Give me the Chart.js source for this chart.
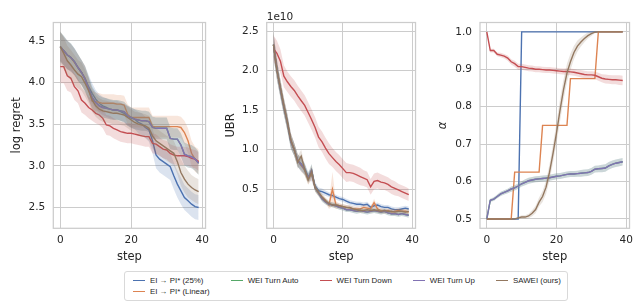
<!DOCTYPE html>
<html>
<head>
<meta charset="utf-8">
<script src="https://cdn.jsdelivr.net/npm/chart.js@4.4.1/dist/chart.umd.min.js"></script>
<style>
  body { margin: 0; background: #fff; width: 639px; height: 302px; overflow: hidden; position: relative; font-family: "DejaVu Sans", sans-serif; }
  canvas { position: absolute; top: 0; }
  #legend {
    position: absolute; left: 124px; top: 271px;
    border: 1px solid #d9d9d9; border-radius: 3px; background: #fff;
    padding: 3px 6px 3px 8px;
    display: grid; grid-template-rows: 11px 11px; column-gap: 21px;
    font-family: "Liberation Sans", Arial, sans-serif; font-size: 7.9px; color: #262626; white-space: nowrap;
  }
  #legend .item { display: flex; align-items: center; }
  #legend .handle { display: inline-block; width: 12px; height: 1.4px; margin-right: 5px; }
</style>
</head>
<body>
<canvas id="c1" width="215" height="270" style="left:0px"></canvas>
<canvas id="c2" width="210" height="270" style="left:215px"></canvas>
<canvas id="c3" width="214" height="270" style="left:425px"></canvas>
<div id="legend"></div>
<script>
const steps = [0,1,2,3,4,5,6,7,8,9,10,11,12,13,14,15,16,17,18,19,20,21,22,23,24,25,26,27,28,29,30,31,32,33,34,35,36,37,38,39];
const seriesNames = ['EI \u2192 PI* (25%)', 'EI \u2192 PI* (Linear)', 'WEI Turn Auto', 'WEI Turn Down', 'WEI Turn Up', 'SAWEI (ours)'];
const seriesColors = ['#4c72b0', '#dd8452', '#55a868', '#c44e52', '#8172b3', '#937860'];
const xTicks = [0, 20, 40];

// log regret
const regretPi25 = [4.43,4.38,4.33,4.30,4.25,4.18,4.12,4.05,3.95,3.87,3.80,3.75,3.72,3.70,3.68,3.67,3.67,3.65,3.63,3.60,3.57,3.56,3.52,3.50,3.46,3.43,3.30,3.13,3.08,3.05,3.02,2.99,2.88,2.78,2.70,2.62,2.58,2.54,2.51,2.50];
const regretLinear = [4.43,4.38,4.33,4.30,4.24,4.18,4.12,4.05,3.92,3.78,3.77,3.76,3.75,3.75,3.75,3.75,3.74,3.74,3.73,3.62,3.58,3.58,3.58,3.58,3.58,3.58,3.47,3.47,3.47,3.47,3.47,3.47,3.47,3.47,3.46,3.40,3.30,3.15,3.08,3.05];
const regretDown = [4.19,4.19,4.08,4.05,3.95,3.90,3.79,3.75,3.70,3.67,3.63,3.61,3.57,3.49,3.48,3.45,3.43,3.41,3.40,3.39,3.39,3.38,3.37,3.36,3.35,3.35,3.27,3.26,3.23,3.20,3.19,3.15,3.13,3.12,3.12,3.12,3.11,3.09,3.08,3.05];
const regretUp = [4.43,4.38,4.33,4.30,4.25,4.18,4.12,4.04,3.93,3.82,3.76,3.72,3.70,3.69,3.68,3.67,3.67,3.66,3.65,3.60,3.58,3.56,3.55,3.54,3.54,3.53,3.46,3.45,3.45,3.45,3.45,3.33,3.32,3.32,3.25,3.14,3.12,3.11,3.08,3.03];
const regretSawei = [4.43,4.35,4.26,4.21,4.15,4.10,4.07,3.99,3.90,3.79,3.72,3.68,3.66,3.65,3.64,3.63,3.63,3.62,3.61,3.58,3.55,3.52,3.50,3.49,3.48,3.45,3.36,3.30,3.27,3.24,3.21,3.18,3.15,3.05,2.92,2.84,2.78,2.74,2.71,2.69];
const regretSdPi25 = [0.17,0.17,0.17,0.16,0.16,0.16,0.15,0.15,0.14,0.12,0.11,0.11,0.11,0.11,0.11,0.11,0.11,0.11,0.11,0.12,0.12,0.12,0.13,0.13,0.13,0.14,0.15,0.16,0.16,0.16,0.16,0.16,0.16,0.16,0.16,0.15,0.15,0.15,0.15,0.15];
const regretSdLinear = [0.17,0.17,0.17,0.16,0.16,0.16,0.15,0.15,0.14,0.12,0.11,0.11,0.11,0.11,0.11,0.11,0.11,0.11,0.11,0.12,0.12,0.12,0.12,0.12,0.12,0.12,0.13,0.13,0.13,0.13,0.13,0.13,0.13,0.13,0.13,0.14,0.15,0.15,0.15,0.15];
const regretSdDown = [0.20,0.20,0.18,0.17,0.16,0.15,0.15,0.14,0.13,0.13,0.12,0.12,0.12,0.12,0.12,0.12,0.12,0.12,0.12,0.12,0.12,0.12,0.12,0.12,0.12,0.12,0.12,0.12,0.11,0.11,0.11,0.11,0.11,0.11,0.11,0.11,0.11,0.11,0.11,0.11];
const regretSdUp = [0.18,0.18,0.17,0.17,0.16,0.16,0.15,0.15,0.14,0.13,0.12,0.12,0.12,0.12,0.12,0.12,0.12,0.12,0.12,0.12,0.12,0.12,0.12,0.12,0.12,0.12,0.13,0.13,0.13,0.13,0.13,0.13,0.13,0.13,0.14,0.14,0.14,0.14,0.14,0.14];
const regretSdSawei = [0.19,0.19,0.18,0.18,0.18,0.17,0.17,0.16,0.15,0.14,0.13,0.13,0.13,0.13,0.13,0.13,0.13,0.13,0.13,0.13,0.13,0.13,0.14,0.14,0.14,0.15,0.15,0.15,0.15,0.15,0.15,0.15,0.15,0.15,0.16,0.16,0.16,0.15,0.15,0.15];
const regretTicks = [2.5, 3.0, 3.5, 4.0, 4.5];

// UBR, in units of 1e10
const ubrPi25 = [2.33,2.00,1.78,1.55,1.36,1.12,1.00,0.86,0.80,0.76,0.66,0.68,0.54,0.48,0.47,0.45,0.43,0.42,0.40,0.38,0.37,0.35,0.33,0.32,0.31,0.31,0.30,0.31,0.27,0.29,0.30,0.28,0.27,0.27,0.25,0.24,0.24,0.25,0.26,0.25];
const ubrLinear = [2.33,2.02,1.78,1.56,1.35,1.12,1.00,0.87,0.80,0.74,0.62,0.70,0.52,0.45,0.40,0.36,0.30,0.50,0.30,0.29,0.28,0.27,0.26,0.25,0.25,0.25,0.27,0.26,0.25,0.33,0.25,0.23,0.22,0.23,0.21,0.22,0.23,0.22,0.22,0.21];
const ubrDown = [2.28,2.22,2.12,1.93,1.86,1.80,1.75,1.68,1.62,1.56,1.47,1.38,1.28,1.16,1.10,1.02,0.95,0.90,0.85,0.81,0.76,0.71,0.71,0.70,0.68,0.66,0.64,0.62,0.53,0.60,0.61,0.59,0.58,0.56,0.53,0.51,0.49,0.47,0.45,0.43];
const ubrUp = [2.33,2.02,1.76,1.54,1.34,1.10,1.00,0.86,0.82,0.75,0.64,0.74,0.52,0.45,0.38,0.34,0.31,0.30,0.29,0.27,0.26,0.24,0.24,0.23,0.22,0.23,0.22,0.21,0.22,0.23,0.22,0.21,0.22,0.20,0.19,0.19,0.18,0.19,0.18,0.17];
const ubrSawei = [2.33,2.00,1.78,1.55,1.35,1.12,1.00,0.84,0.92,0.75,0.62,0.72,0.52,0.46,0.40,0.35,0.32,0.30,0.30,0.29,0.28,0.27,0.27,0.25,0.24,0.23,0.23,0.24,0.23,0.24,0.23,0.22,0.23,0.22,0.22,0.21,0.22,0.22,0.21,0.22];
const ubrSd = [0.15,0.12,0.11,0.10,0.10,0.09,0.08,0.08,0.08,0.07,0.06,0.08,0.05,0.04,0.04,0.035,0.03,0.03,0.03,0.03,0.03,0.03,0.03,0.03,0.03,0.03,0.03,0.03,0.03,0.03,0.03,0.03,0.03,0.03,0.03,0.03,0.03,0.03,0.03,0.03];
const ubrSdLinear = [0.15,0.12,0.11,0.10,0.10,0.09,0.08,0.08,0.08,0.07,0.06,0.08,0.05,0.04,0.04,0.035,0.05,0.22,0.05,0.03,0.03,0.03,0.03,0.03,0.03,0.03,0.03,0.03,0.03,0.05,0.03,0.03,0.03,0.03,0.03,0.03,0.03,0.03,0.03,0.03];
const ubrSdDown = [0.17,0.16,0.15,0.14,0.13,0.13,0.13,0.13,0.13,0.13,0.13,0.13,0.13,0.13,0.13,0.13,0.13,0.12,0.12,0.12,0.12,0.12,0.11,0.11,0.11,0.11,0.10,0.10,0.10,0.10,0.10,0.10,0.09,0.09,0.09,0.09,0.08,0.08,0.08,0.08];
const ubrTicks = [0.5, 1.0, 1.5, 2.0, 2.5];

// alpha
const alphaPi25 = [0.5,0.5,0.5,0.5,0.5,0.5,0.5,0.5,0.5,0.5,1,1,1,1,1,1,1,1,1,1,1,1,1,1,1,1,1,1,1,1,1,1,1,1,1,1,1,1,1,1];
const alphaLinear = [0.5,0.5,0.5,0.5,0.5,0.5,0.5,0.5,0.625,0.625,0.625,0.625,0.625,0.625,0.625,0.625,0.75,0.75,0.75,0.75,0.75,0.75,0.75,0.75,0.875,0.875,0.875,0.875,0.875,0.875,0.875,0.875,1,1,1,1,1,1,1,1];
const alphaDown = [1.0,0.95,0.95,0.94,0.938,0.935,0.93,0.92,0.915,0.907,0.907,0.905,0.903,0.902,0.9,0.9,0.899,0.898,0.898,0.897,0.896,0.895,0.894,0.894,0.893,0.892,0.89,0.888,0.886,0.885,0.885,0.884,0.88,0.876,0.874,0.873,0.872,0.872,0.871,0.87];
const alphaUp = [0.5,0.55,0.553,0.56,0.567,0.571,0.575,0.58,0.583,0.588,0.594,0.598,0.602,0.604,0.606,0.607,0.608,0.609,0.61,0.612,0.614,0.615,0.617,0.619,0.62,0.62,0.621,0.622,0.623,0.624,0.627,0.633,0.634,0.635,0.636,0.642,0.646,0.649,0.651,0.653];
const alphaSawei = [0.5,0.5,0.5,0.5,0.5,0.5,0.5,0.5,0.5,0.503,0.505,0.505,0.508,0.515,0.525,0.545,0.56,0.585,0.625,0.675,0.73,0.79,0.845,0.89,0.92,0.945,0.962,0.973,0.982,0.99,0.995,0.999,1,1,1,1,1,1,1,1];
const alphaSdDown = [0,0.005,0.005,0.005,0.006,0.006,0.007,0.007,0.008,0.008,0.008,0.008,0.008,0.008,0.008,0.008,0.008,0.008,0.008,0.008,0.008,0.008,0.008,0.009,0.009,0.009,0.009,0.01,0.01,0.01,0.01,0.01,0.011,0.011,0.012,0.012,0.012,0.012,0.013,0.013];
const alphaSdUp = [0,0.004,0.005,0.005,0.006,0.006,0.006,0.007,0.007,0.007,0.007,0.008,0.008,0.008,0.008,0.008,0.008,0.008,0.008,0.008,0.008,0.008,0.008,0.008,0.008,0.008,0.008,0.009,0.009,0.009,0.009,0.009,0.009,0.01,0.01,0.01,0.01,0.01,0.01,0.01];
const alphaSdSawei = [0,0,0,0,0,0,0,0,0,0.003,0.005,0.005,0.006,0.008,0.01,0.012,0.015,0.018,0.022,0.025,0.028,0.03,0.028,0.025,0.022,0.018,0.015,0.012,0.01,0.008,0.006,0.003,0,0,0,0,0,0,0,0];
const alphaTicks = [0.5, 0.6, 0.7, 0.8, 0.9, 1.0];

// WEI Turn Auto is not visible on its own, it sits under WEI Turn Up
const panels = [
  { id: 'c1', label: 'log regret', italic: false, yMin: 2.25, yMax: 4.72, yTicks: regretTicks,
    means: [regretPi25, regretLinear, regretUp, regretDown, regretUp, regretSawei],
    sds: [regretSdPi25, regretSdLinear, regretSdUp, regretSdDown, regretSdUp, regretSdSawei],
    axisW: 53.3, padRight: 5.7, titlePad: 9.8 },
  { id: 'c2', label: 'UBR', italic: false, yMin: 0.005, yMax: 2.61, yTicks: ubrTicks, offsetText: '1e10',
    means: [ubrPi25, ubrLinear, ubrUp, ubrDown, ubrUp, ubrSawei],
    sds: [ubrSd, ubrSdLinear, ubrSd, ubrSdDown, ubrSd, ubrSd],
    axisW: 51.7, padRight: 3.3, titlePad: 9.1 },
  { id: 'c3', label: '\u03b1', italic: true, yMin: 0.475, yMax: 1.025, yTicks: alphaTicks,
    means: [alphaPi25, alphaLinear, alphaUp, alphaDown, alphaUp, alphaSawei],
    sds: [null, null, alphaSdUp, alphaSdDown, alphaSdUp, alphaSdSawei],
    axisW: 55, padRight: 4, titlePad: 11.6 }
];

Chart.defaults.font.family = '"DejaVu Sans", sans-serif';
Chart.defaults.color = '#262626';

function rgba(hex, a) {
  const n = parseInt(hex.slice(1), 16);
  return `rgba(${n >> 16}, ${(n >> 8) & 255}, ${n & 255}, ${a})`;
}

function buildDatasets(means, sds) {
  const ds = [];
  means.forEach((m, i) => {
    const col = seriesColors[i];
    const sd = sds[i];
    if (sd) {
      ds.push({ data: steps.map((s, k) => ({ x: s, y: m[k] - sd[k] })), borderWidth: 0, pointRadius: 0, fill: false });
      ds.push({ data: steps.map((s, k) => ({ x: s, y: m[k] + sd[k] })), borderWidth: 0, pointRadius: 0,
                fill: '-1', backgroundColor: rgba(col, 0.2) });
    }
    ds.push({ label: seriesNames[i], data: steps.map((s, k) => ({ x: s, y: m[k] })),
              borderColor: col, borderWidth: 1.4, pointRadius: 0, fill: false });
  });
  // later series are drawn on top, like seaborn
  ds.forEach((d, j) => { d.order = ds.length - j; });
  return ds;
}

const spines = {
  id: 'spines',
  afterDatasetsDraw(chart) {
    const { ctx, chartArea: a } = chart;
    ctx.save();
    ctx.strokeStyle = '#cccccc';
    ctx.lineWidth = 1.25;
    ctx.strokeRect(a.left, a.top, a.right - a.left, a.bottom - a.top);
    ctx.restore();
  }
};

const offsetText = {
  id: 'offsetText',
  afterDraw(chart, args, opts) {
    if (!opts.text) return;
    const { ctx, chartArea: a } = chart;
    ctx.save();
    ctx.font = '10.5px "DejaVu Sans"';
    ctx.fillStyle = '#262626';
    ctx.textAlign = 'left';
    ctx.textBaseline = 'alphabetic';
    ctx.fillText(opts.text, a.left, a.top - 2.5);
    ctx.restore();
  }
};

panels.forEach(p => {
  new Chart(document.getElementById(p.id), {
    type: 'line',
    data: { datasets: buildDatasets(p.means, p.sds) },
    plugins: [spines, offsetText],
    options: {
      responsive: false,
      animation: false,
      events: [],
      layout: { padding: { top: 22.5, right: p.padRight, left: 0, bottom: 0 } },
      elements: { line: { tension: 0 } },
      plugins: {
        legend: { display: false },
        tooltip: { enabled: false },
        offsetText: { text: p.offsetText || '' }
      },
      scales: {
        x: {
          type: 'linear', min: -1.95, max: 40.95,
          afterBuildTicks: s => { s.ticks = xTicks.map(v => ({ value: v })); },
          afterFit: s => { s.height = 270 - 228.3; },
          grid: { color: '#cccccc', lineWidth: 1, drawTicks: false },
          border: { display: false },
          ticks: { padding: 6, font: { size: 10.5 }, callback: v => String(v) },
          title: { display: true, text: 'step', font: { size: 11.5 }, padding: { top: 0, bottom: 6 } }
        },
        y: {
          type: 'linear', min: p.yMin, max: p.yMax,
          afterBuildTicks: s => { s.ticks = p.yTicks.map(v => ({ value: v })); },
          afterFit: s => { s.width = p.axisW; },
          grid: { color: '#cccccc', lineWidth: 1, drawTicks: false },
          border: { display: false },
          ticks: { padding: 8, font: { size: 10.5 }, callback: v => v.toFixed(1) },
          title: { display: true, text: p.label, font: { size: 11.5, style: p.italic ? 'italic' : 'normal' },
                   padding: { top: p.titlePad, bottom: 0 } }
        }
      }
    }
  });
});

// legend: first column holds the two EI -> PI* entries, like matplotlib's column-first layout
const legendSlots = [[1, 1], [1, 2], [2, 1], [3, 1], [4, 1], [5, 1]];
const legend = document.getElementById('legend');
seriesNames.forEach((name, i) => {
  const item = document.createElement('div');
  item.className = 'item';
  item.style.gridColumn = legendSlots[i][0];
  item.style.gridRow = legendSlots[i][1];
  const h = document.createElement('span');
  h.className = 'handle';
  h.style.background = seriesColors[i];
  item.appendChild(h);
  item.appendChild(document.createTextNode(name));
  legend.appendChild(item);
});
</script>
</body>
</html>
